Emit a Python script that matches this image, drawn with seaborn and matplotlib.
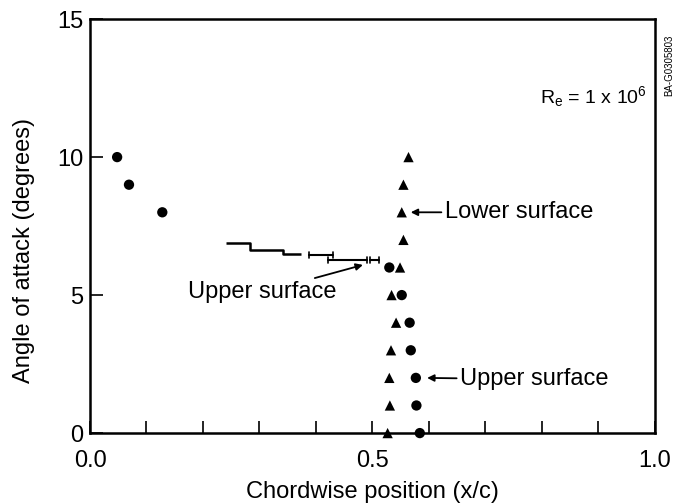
import matplotlib
matplotlib.use("Agg")
import matplotlib.pyplot as plt
import seaborn as sns
import pandas as pd

# ---- data ----
angles_left_circles = [10, 9, 8]
x_left_circles = [0.048, 0.069, 0.128]

angles_tri = [10, 9, 8, 7, 6, 5, 4, 3, 2, 1, 0]
x_tri = [0.564, 0.555, 0.552, 0.555, 0.549, 0.534, 0.542, 0.533, 0.530, 0.531, 0.527]

angles_circ = [6, 5, 4, 3, 2, 1, 0]
x_circ = [0.530, 0.552, 0.566, 0.568, 0.577, 0.578, 0.584]

# transition-range bars (upper surface)
step_x = [0.241, 0.283, 0.283, 0.342, 0.342, 0.374]
step_y = [6.89, 6.89, 6.65, 6.65, 6.49, 6.49]
bar_start = [0.387, 0.422, 0.496]
bar_end = [0.431, 0.490, 0.511]
bar_level = [6.46, 6.27, 6.27]

x_ticks = [0.0, 0.1, 0.2, 0.3, 0.4, 0.5, 0.6, 0.7, 0.8, 0.9, 1.0]
x_ticklabels = ["0.0", "", "", "", "", "0.5", "", "", "", "", "1.0"]
y_ticks = [0, 5, 10, 15]
y_ticklabels = ["0", "5", "10", "15"]

sns.set_theme(style="white")
plt.rcParams["font.family"] = ["Liberation Sans", "DejaVu Sans"]
plt.rcParams["mathtext.fontset"] = "custom"
plt.rcParams["mathtext.rm"] = "Liberation Sans"
plt.rcParams["mathtext.it"] = "Liberation Sans"
plt.rcParams["text.color"] = "black"
plt.rcParams["axes.labelcolor"] = "black"
plt.rcParams["xtick.color"] = "black"
plt.rcParams["ytick.color"] = "black"

df = pd.DataFrame({
    "x": x_left_circles + x_circ + x_tri,
    "alpha": angles_left_circles + angles_circ + angles_tri,
    "surface": ["upper"] * (len(x_left_circles) + len(x_circ)) + ["lower"] * len(x_tri),
})

fig = plt.figure(figsize=(6.82, 5.03), dpi=100)
ax = fig.add_axes([0.132, 0.139, 0.828, 0.823])

sns.scatterplot(data=df, x="x", y="alpha", style="surface",
                markers={"upper": "o", "lower": "^"}, color="black",
                s=55, edgecolor="none", legend=False, ax=ax, zorder=3,
                clip_on=False)

ax.plot(step_x, step_y, color="black", lw=1.8, solid_capstyle="butt")
for s, e, lv in zip(bar_start, bar_end, bar_level):
    ax.plot([s, e], [lv, lv], color="black", lw=1.5)
    ax.plot([s, s], [lv - 0.1, lv + 0.1], color="black", lw=1.2)
    ax.plot([e, e], [lv - 0.1, lv + 0.1], color="black", lw=1.2)

ax.set_xlim(0, 1.0)
ax.set_ylim(0, 15)
ax.set_xticks(x_ticks)
ax.set_xticklabels(x_ticklabels)
ax.set_yticks(y_ticks)
ax.set_yticklabels(y_ticklabels)
ax.tick_params(axis="both", direction="in", length=9, width=1.2,
               labelsize=17, color="black", labelcolor="black",
               bottom=True, left=True, top=False, right=False)
ax.tick_params(axis="x", pad=12)
ax.tick_params(axis="y", pad=5)
for sp in ax.spines.values():
    sp.set_color("black")
    sp.set_linewidth(1.8)

ax.set_xlabel("Chordwise position (x/c)", fontsize=17, color="black", labelpad=7)
ax.set_ylabel("Angle of attack (degrees)", fontsize=17, color="black")
ax.yaxis.set_label_coords(-0.098, 0.44)

arrow = dict(arrowstyle="-|>", color="black", lw=1.3, mutation_scale=10,
             shrinkA=0, shrinkB=2)
ax.annotate("Lower surface", xy=(0.563, 8.0), xytext=(0.628, 8.0),
            fontsize=17, va="center", ha="left", arrowprops=arrow)
ax.annotate("Upper surface", xy=(0.592, 2.0), xytext=(0.655, 1.95),
            fontsize=17, va="center", ha="left", arrowprops=arrow)
ax.annotate("Upper surface", xy=(0.488, 6.12), xytext=(0.437, 5.1),
            fontsize=17, va="center", ha="right", arrowprops=arrow)

ax.text(0.796, 12.2, r"R$_{\mathrm{e}}$ = 1 x 10$^{6}$", fontsize=14,
        va="center", ha="left")

fig.text(0.982, 0.87, "BA-G0305803", rotation=90, fontsize=7,
         va="center", ha="center", color="black")

fig.savefig("out.png", dpi=100)
